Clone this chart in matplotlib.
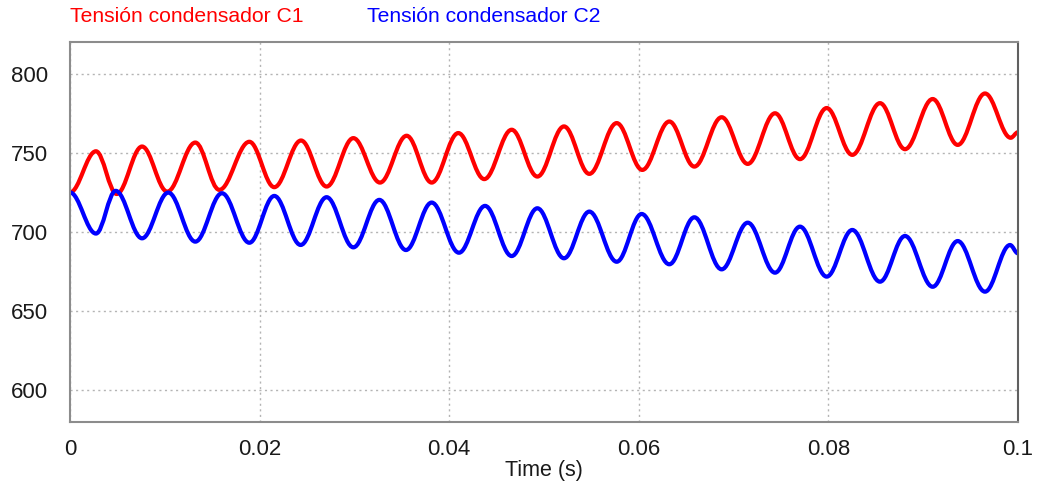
import matplotlib
matplotlib.use("Agg")
import matplotlib.pyplot as plt
from matplotlib.path import Path
from matplotlib.patches import PathPatch

plt.rcParams['font.family'] = ['Liberation Sans', 'DejaVu Sans']

# extremes (time in s, voltage in V)
c1_time = [0.0, 0.00274, 0.00492, 0.0076, 0.01026, 0.01322, 0.01575, 0.01892, 0.02155,
           0.02437, 0.02707, 0.02989, 0.0327, 0.03551, 0.03815, 0.04096, 0.0437,
           0.04659, 0.0493, 0.05211, 0.05478, 0.05767, 0.06037, 0.06322, 0.06586,
           0.06874, 0.07149, 0.07437, 0.077, 0.07982, 0.08252, 0.08544, 0.08808,
           0.091, 0.09364, 0.09652, 0.09923, 0.1]
c1_volt = [725, 751, 724, 754, 725.5, 756.5, 726.6, 757, 728.3,
           757.8, 728.7, 759.3, 731.2, 760.8, 731.2, 762.5, 733.4,
           764.6, 735, 766.7, 736.7, 768.8, 739.2, 769.8, 741.3,
           772.5, 743, 775, 746, 778.3, 748.7, 781.4, 752.3,
           784, 755, 787.5, 759.5, 763]

c2_time = [0.0, 0.00274, 0.00482, 0.0076, 0.01037, 0.01322, 0.01603, 0.01892, 0.02155,
           0.02433, 0.02707, 0.02989, 0.03263, 0.03544, 0.03815, 0.04103, 0.04378,
           0.04659, 0.0493, 0.05211, 0.05478, 0.05767, 0.0603, 0.06322, 0.06586,
           0.06874, 0.07149, 0.07437, 0.077, 0.07982, 0.08252, 0.08544, 0.08808,
           0.091, 0.09364, 0.09652, 0.09916, 0.1]
c2_volt = [725, 699, 726, 696, 724.9, 693.9, 724.5, 693.2, 722.8,
           691.8, 722, 690.3, 720.3, 688.6, 718.6, 686.9, 716.5,
           684.8, 715, 683.4, 712.9, 681.2, 711.4, 679.6, 709.3,
           676.4, 705.9, 674.3, 703.4, 671.8, 701.3, 668.6, 697.5,
           665.4, 694.3, 662.3, 691.8, 686.5]

x_ticks = [0, 0.02, 0.04, 0.06, 0.08, 0.1]
x_labels = ['0', '0.02', '0.04', '0.06', '0.08', '0.1']
y_ticks = [600, 650, 700, 750, 800]


def smooth_path(ts, vs, k=0.364):
    # cubic bezier through the extremes, flat tangent at each one
    verts = [(ts[0], vs[0])]
    codes = [Path.MOVETO]
    for i in range(1, len(ts)):
        dt = ts[i] - ts[i - 1]
        verts += [(ts[i - 1] + k * dt, vs[i - 1]), (ts[i] - k * dt, vs[i]), (ts[i], vs[i])]
        codes += [Path.CURVE4] * 3
    return Path(verts, codes)


fig = plt.figure(figsize=(10.38, 4.87), dpi=100)
ax = fig.add_axes([70 / 1038, 1 - 422 / 487, 948 / 1038, 380 / 487])

for ts, vs, col in [(c1_time, c1_volt, '#ff0000'), (c2_time, c2_volt, '#0000ff')]:
    patch = PathPatch(smooth_path(ts, vs), facecolor='none', edgecolor=col,
                      lw=3.0, transform=ax.transData, joinstyle='round', capstyle='round')
    ax.add_patch(patch)

ax.set_xlim(0, 0.1)
ax.set_ylim(580, 820)
ax.set_xticks(x_ticks)
ax.set_xticklabels(x_labels)
ax.set_yticks(y_ticks)
ax.tick_params(length=0, labelsize=16, colors='#1a1a1a')
ax.tick_params(axis='x', pad=12)
ax.tick_params(axis='y', pad=16)
ax.grid(True, color='#b4b4b4', linestyle=(0, (1.5, 2.5)), linewidth=1)
ax.set_axisbelow(True)

for side in ['left', 'bottom', 'top']:
    ax.spines[side].set_color('#8c8c8c')
    ax.spines[side].set_linewidth(1.5)
ax.spines['right'].set_color('#606060')
ax.spines['right'].set_linewidth(1.5)

ax.set_xlabel('Time (s)', fontsize=15.5, color='#1a1a1a', labelpad=0)

fig.text(70 / 1038, 1 - 16 / 487, 'Tensión condensador C1', color='#ff0000',
         fontsize=15.2, va='center', ha='left')
fig.text(367 / 1038, 1 - 16 / 487, 'Tensión condensador C2', color='#0000ff',
         fontsize=15.2, va='center', ha='left')

fig.savefig('out.png', dpi=100)
